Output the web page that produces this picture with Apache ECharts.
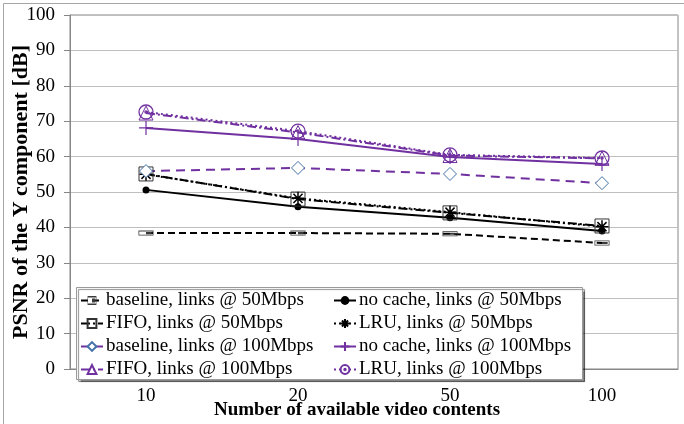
<!DOCTYPE html>
<html>
<head>
<meta charset="utf-8">
<script src="https://cdn.jsdelivr.net/npm/echarts@6/dist/echarts.min.js"></script>
<style>
  html, body { margin: 0; padding: 0; background: #fff; }
  #chart { width: 684px; height: 424px; }
</style>
</head>
<body>
<div id="chart"></div>
<script>
// Number of available video contents
const categories = ['10', '20', '50', '100'];

// PSNR of the Y component [dB]
const baseline50 = [38.4, 38.4, 38.2, 35.6];
const noCache50  = [50.6, 45.8, 42.7, 39.0];
const fifo50     = [55.1, 48.0, 44.1, 40.4];
const lru50      = [55.0, 48.2, 44.3, 40.2];
const baseline100 = [55.9, 56.8, 55.1, 52.5];
const noCache100  = [68.1, 65.0, 59.9, 57.9];
const fifo100     = [72.3, 66.8, 60.3, 59.5];
const lru100      = [72.6, 67.2, 60.5, 59.6];

const yTicks = { min: 0, max: 100, interval: 10 };

const SERIF = '"Liberation Serif", "Times New Roman", serif';
const PURPLE = '#7030A0';
const BLACK = '#000000';

// marker shapes
const BAR_BOX = 'path://M-10,-3L10,-3L10,3L-10,3ZM-9,-2L-9,2L9,2L9,-2ZM0,-1.3L7.5,-1.3L7.5,1.3L0,1.3Z';
const STAR = 'path://M0,-10L0,10M-10,0L10,0M-7,-7L7,7M-7,7L7,-7';
const PLUS = 'path://M0,-10L0,10M-10,0L10,0';
const DOT_CIRCLE = 'path://M10,0A10,10 0 1,1 -10,0A10,10 0 1,1 10,0ZM1.6,0A1.6,1.6 0 1,1 -1.6,0A1.6,1.6 0 1,1 1.6,0Z';

function line(name, data, color, dash, symbol, size, item) {
  return {
    name, type: 'line', data,
    symbol, symbolSize: size,
    lineStyle: { color, width: 2, type: dash },
    itemStyle: item,
    emphasis: { disabled: true },
    z: 3
  };
}

const series = [
  line('baseline, links @ 50Mbps', baseline50, BLACK, [7, 4], BAR_BOX, [15, 5],
       { color: '#3a3a3a', borderWidth: 0 }),
  line('no cache, links @ 50Mbps', noCache50, BLACK, 'solid', 'circle', 7,
       { color: BLACK, borderColor: BLACK, borderWidth: 0 }),
  line('FIFO, links @ 50Mbps', fifo50, BLACK, [9, 3, 2, 3], 'rect', 14,
       { color: 'rgba(255,255,255,0)', borderColor: '#333333', borderWidth: 1 }),
  line('LRU, links @ 50Mbps', lru50, BLACK, [2, 3], STAR, 13,
       { color: BLACK, borderColor: BLACK, borderWidth: 1.5 }),
  line('baseline, links @ 100Mbps', baseline100, PURPLE, [9, 6], 'diamond', 13,
       { color: '#ffffff', borderColor: '#4472A8', borderWidth: 1 }),
  line('no cache, links @ 100Mbps', noCache100, PURPLE, 'solid', PLUS, 14,
       { color: PURPLE, borderColor: PURPLE, borderWidth: 1.2 }),
  line('FIFO, links @ 100Mbps', fifo100, PURPLE, [9, 3, 2, 3], 'triangle', 14,
       { color: 'rgba(255,255,255,0)', borderColor: PURPLE, borderWidth: 1 }),
  line('LRU, links @ 100Mbps', lru100, PURPLE, [2, 3], DOT_CIRCLE, 14,
       { color: 'rgba(255,255,255,0)', borderColor: PURPLE, borderWidth: 1.3 })
];

const legendCol1 = ['baseline, links @ 50Mbps', 'FIFO, links @ 50Mbps',
                    'baseline, links @ 100Mbps', 'FIFO, links @ 100Mbps'];
const legendCol2 = ['no cache, links @ 50Mbps', 'LRU, links @ 50Mbps',
                    'no cache, links @ 100Mbps', 'LRU, links @ 100Mbps'];

const legendBase = {
  orient: 'vertical',
  top: 291,
  itemWidth: 22,
  itemHeight: 11,
  itemGap: 4,
  padding: 0,
  selectedMode: false,
  textStyle: { fontFamily: SERIF, fontSize: 19, color: '#000', padding: [0, 0, 0, -2] }
};

const chart = echarts.init(document.getElementById('chart'), null, { renderer: 'canvas' });
chart.setOption({
  animation: false,
  backgroundColor: '#ffffff',
  textStyle: { fontFamily: SERIF },
  grid: {
    left: 70, right: 6, top: 15, bottom: 55,
    outerBoundsMode: 'none', containLabel: false,
    show: true, borderColor: '#868686', borderWidth: 1
  },
  title: {
    text: 'Number of available video contents',
    left: 214, top: 401,
    padding: 0,
    textStyle: { fontFamily: SERIF, fontSize: 19, fontWeight: 'bold', color: '#000' }
  },
  legend: [
    Object.assign({}, legendBase, { left: 80, data: legendCol1 }),
    Object.assign({}, legendBase, { left: 333, data: legendCol2 })
  ],
  graphic: [
    { type: 'rect', left: 1, top: 1, shape: { width: 681, height: 421 },
      style: { fill: 'none', stroke: '#a6a6a6', lineWidth: 1 }, z: -10, silent: true },
    { type: 'rect', left: 76, top: 287, shape: { width: 506, height: 92 },
      style: { fill: '#ffffff', stroke: '#9a9a9a', lineWidth: 1,
               shadowColor: 'rgba(0,0,0,0.45)', shadowOffsetX: 2, shadowOffsetY: 2, shadowBlur: 1 },
      z: 4, silent: true }
  ],
  xAxis: {
    type: 'category',
    data: categories,
    boundaryGap: true,
    axisLine: { lineStyle: { color: '#868686', width: 1 } },
    axisTick: { show: false },
    axisLabel: { fontFamily: SERIF, fontSize: 19, color: '#000', margin: 18 },
    splitLine: { show: false }
  },
  yAxis: {
    type: 'value',
    min: yTicks.min, max: yTicks.max, interval: yTicks.interval,
    name: 'PSNR of the Y component [dB]',
    nameLocation: 'middle',
    nameRotate: 90,
    nameGap: 38,
    nameMoveOverlap: false,
    nameTextStyle: { fontFamily: SERIF, fontSize: 22, fontWeight: 'bold', color: '#000' },
    axisLine: { show: true, lineStyle: { color: '#868686', width: 1 } },
    axisTick: { show: true, length: 6, lineStyle: { color: '#868686' } },
    axisLabel: { fontFamily: SERIF, fontSize: 19, color: '#000', margin: 15 },
    splitLine: { show: true, lineStyle: { color: '#bfbfbf', width: 1 } }
  },
  series: series
});
</script>
</body>
</html>
